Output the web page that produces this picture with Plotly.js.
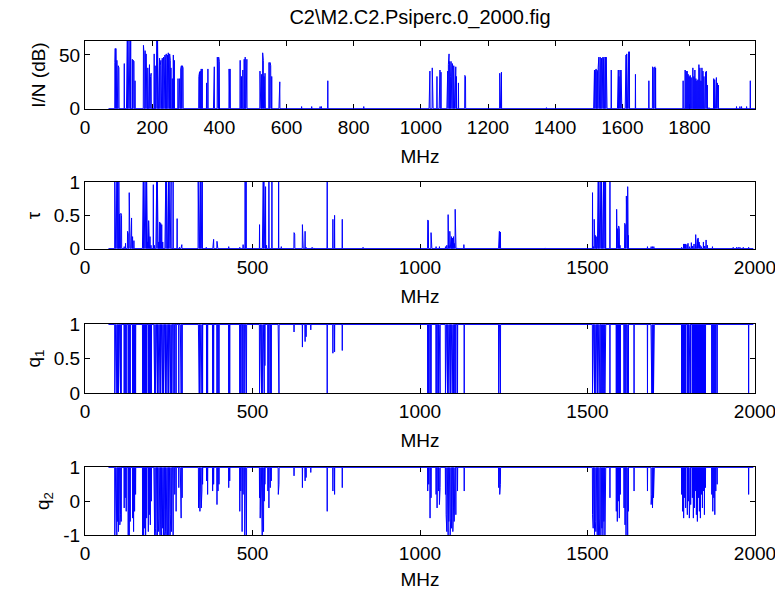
<!DOCTYPE html>
<html>
<head>
<meta charset="utf-8">
<script src="https://cdn.plot.ly/plotly-3.0.1.min.js"></script>
<style>html,body{margin:0;padding:0;background:#fff}#chart{width:775px;height:590px}</style>
</head>
<body>
<div id="chart"></div>
<script>
// ---------- data (MHz, value) ----------
const dataStart = 70, dataEnd = 1995;

const inFreq = [89,90,92,94,95,97,99,101,117,124,126,128,130,132,134,136,141,144,146,149,
174,176,179,182,184,187,190,192,195,197,206,209,212,214,216,218,220,222,224,226,228,230,232,234,236,238,240,242,244,246,248,250,252,254,256,
260,263,266,277,280,282,285,287,290,292,339,341,343,346,349,362,366,383,385,394,396,398,400,429,432,
462,466,470,474,477,480,482,521,523,526,529,531,533,536,548,551,553,556,578,580,645,675,700,704,723,830,
1025,1027,1034,1036,1048,1055,1057,1060,1078,1080,1082,1084,1086,1088,1090,1092,1094,1096,1098,1100,1102,1104,1106,1112,1131,1133,
1235,1237,1240,1374,1515,1517,1520,1522,1524,1526,1528,1530,1532,1534,1536,1538,1540,1542,1544,1546,1548,1550,1552,1554,
1567,1586,1588,1590,1593,1596,1598,1609,1611,1613,1615,1617,1619,1621,1639,1679,1690,1692,1695,1697,1699,
1781,1787,1790,1793,1796,1799,1802,1805,1810,1813,1816,1819,1822,1825,1828,1831,1834,1837,1840,1843,1846,1848,1850,1853,1858,
1872,1875,1878,1880,1883,1886,1940,1950,1955,1970,1981];
const inVal = [43,56,56,56,45,38,40,38,42,65,65,65,58,65,65,65,46,45,44,26,
59,50,54,51,51,38,41,41,30,33,51,40,65,65,65,44,40,47,40,45,38,47,44,48,42,50,46,51,44,50,52,40,51,45,38,
28,50,45,28,28,28,37,40,40,38,30,34,35,37,37,24,37,39,39,48,46,48,44,37,37,
45,30,36,46,48,40,46,35,30,32,52,45,30,33,43,43,40,30,25,25,2,2,2,2,26,2,
35,35,38,38,30,36,36,34,34,35,41,51,44,30,44,41,42,34,40,30,39,39,30,24,31,30,
33,33,34,1,36,36,35,37,36,35,38,48,46,48,40,47,44,48,47,48,40,48,48,46,
36,33,36,30,36,36,32,46,50,51,50,52,53,53,32,26,39,38,38,39,38,
26,36,35,35,32,30,31,29,38,30,36,28,26,27,41,38,26,38,35,30,25,34,35,22,1,
28,27,28,29,24,22,2,2,2,2,26];

const tauFreq = [89,91,93,95,97,99,101,103,105,107,109,117,121,127,129,132,134,137,139,142,146,
172,174,176,178,180,182,184,187,190,192,194,197,204,207,212,214,216,218,220,223,226,229,232,
239,241,243,245,247,249,251,253,255,257,263,275,282,287,289,338,340,342,344,346,348,350,
362,382,384,394,396,429,462,472,478,481,521,530,532,534,536,539,542,549,558,578,586,
624,626,649,651,657,660,678,683,723,740,745,768,830,
1023,1025,1033,1035,1048,1058,1076,1080,1084,1086,1089,1091,1094,1097,1100,1102,1105,1107,1112,1131,
1235,1237,1240,1374,1515,1518,1520,1523,1526,1530,1532,1534,1536,1538,1540,1542,1544,1546,1548,1550,1552,1554,1567,
1587,1589,1591,1593,1595,1597,1611,1613,1616,1618,1620,1622,1679,1690,1694,1698,
1781,1787,1790,1793,1797,1800,1805,1810,1814,1818,1823,1826,1828,1830,1833,1836,1840,1846,1850,1854,1858,1873,
1935,1945,1950,1955,1965,1981];
const tauVal = [1,1,1,1,1,1,1,0.52,0.5,0.53,0.5,0.03,0.08,0.26,0.22,0.84,0.84,0.46,0.46,0.18,0.12,
1,1,1,1,1,1,1,0.1,0.42,0.4,0.18,0.05,0.96,0.05,1,1,1,1,0.1,0.4,0.38,0.36,0.1,
1,1,1,1,1,1,1,1,1,1,1,0.45,0.02,0.05,0.06,1,1,1,1,1,1,1,
0.02,0.14,0.14,0.11,0.08,0.03,0.02,0.06,1,1,0.36,1,1,1,1,0.93,0.05,1,1,1,0.03,
0.24,0.22,0.36,0.3,0.26,0.02,0.02,0.01,1,0.44,0.5,0.44,0.02,
0.43,0.42,0.24,0.24,0.03,0.03,0.03,0.05,0.51,0.05,0.26,0.2,0.18,0.16,0.18,0.08,0.59,0.1,0.01,0.06,
0.24,0.26,0.25,0.01,0.84,0.03,0.44,0.2,0.18,0.3,1,1,1,0.2,1,1,1,1,1,1,1,1,1,
0.59,0.3,0.2,0.34,0.3,0.05,0.38,0.36,0.79,0.4,0.93,0.2,0.03,0.03,0.03,0.03,
0.02,0.07,0.07,0.07,0.06,0.08,0.03,0.09,0.04,0.07,0.21,0.12,0.14,0.16,0.1,0.05,0.03,0.1,0.04,0.13,0.05,0.03,
0.02,0.02,0.02,0.02,0.02,0.02];

const q1Freq = [89,91,93,95,97,100,102,104,106,108,117,120,123,129,132,135,142,145,148,151,
172,175,178,181,184,189,192,195,198,206,208,210,212,214,216,218,220,222,224,226,228,230,232,234,236,238,240,242,244,246,248,250,252,254,256,258,260,263,
268,272,280,285,287,290,339,341,343,345,347,349,351,363,366,381,384,394,397,400,429,432,462,465,469,472,477,480,482,
521,523,525,527,529,531,533,535,537,546,549,553,556,577,579,624,649,657,660,674,723,740,745,768,
1023,1026,1030,1033,1048,1051,1055,1058,1060,1076,1078,1080,1082,1084,1086,1088,1090,1092,1094,1096,1098,1100,1102,1104,1107,1112,1132,
1235,1238,1240,1515,1517,1519,1521,1523,1525,1527,1529,1531,1533,1535,1537,1540,1543,1546,1549,1552,1554,
1567,1586,1589,1592,1595,1598,1609,1612,1615,1618,1620,1622,1639,1679,1690,1692,1694,1697,1699,
1781,1784,1787,1790,1793,1798,1801,1804,1806,1808,1813,1816,1819,1822,1825,1828,1831,1834,1837,1840,1843,1846,1849,1852,
1871,1874,1877,1880,1883,1887,1981];
const q1Val = [0,0,0,0,0,0,0,0,0,0,0,0,0,0,0,0,0,0,0,0,
0,0,0,0,0,0,0,0,0,0,0,0,0,0,0,0,0,0,0,0,0,0,0,0,0,0,0,0,0,0,0,0,0,0,0,0,0,0,
0,0,0,0,0,0,0,0,0,0,0,0,0,0,0,0,0,0,0,0,0,0,0,0,0,0,0,0,0,
0,0,0,0,0,0,0,0,0.4,0,0,0,0,0,0,0.89,0.67,0.75,0.82,0.92,0,0.58,0.6,0.62,
0,0,0,0,0,0,0,0,0,0,0,0,0,0,0,0,0,0,0,0,0,0,0,0,0,0,0,
0,0,0,0,0,0,0,0,0,0,0,0,0,0,0,0,0,0,0,0,0,
0,0,0,0,0,0,0,0,0,0,0,0,0,0,0,0,0,0,0,
0,0,0,0,0,0,0,0,0,0,0,0,0,0,0,0,0,0,0,0,0,0,0,0,
0,0,0,0,0,0,0];

const q2Freq = q1Freq;
const q2Val = [-1,-1,-0.8,-1,-0.6,-0.9,-0.5,-0.7,-0.4,-0.6,-0.2,0.1,-0.3,-1,-1,-0.6,-0.5,-0.9,-0.3,0.2,
-1,-1,-0.8,-1,-0.5,-0.9,-0.4,-0.7,0,-0.6,-1,-0.8,-1,-1,-1,-0.5,-0.9,-0.4,-1,-0.7,-1,-0.3,-0.8,-1,-0.6,-1,-0.9,-1,-0.5,-1,-0.8,-1,-0.6,-1,-0.4,-0.9,-0.2,-1,
0.2,-0.3,0.4,-0.2,-0.5,0.1,-0.2,0.1,-0.3,0,-0.2,0.3,0.5,0.6,0.2,0.3,0.5,-0.1,0.3,0.5,0.4,0.6,-0.3,0.3,-0.9,0.2,-1,-0.6,-1,
0.1,-0.5,-0.2,-0.8,-1,-0.4,-0.9,0,0.5,0.3,-0.2,0.4,0.6,0.2,0.5,0.75,0.4,0.6,0.7,0.85,-0.3,0.3,0.2,0.4,
0.3,0.5,-0.5,0.1,0.2,-0.2,0.3,-0.1,0.4,0.2,-0.4,-0.9,-0.3,-1,-0.6,-0.2,-1,-0.5,-0.8,-0.3,-0.9,-0.2,-0.6,0.1,-0.4,0.3,0.3,
0.4,0.2,0.5,-0.4,-0.8,-0.2,-1,-0.6,-0.9,-0.3,-1,-0.7,-1,-1,-0.5,-1,-0.8,-1,-0.6,-1,-0.4,
0.1,-0.3,-0.6,0,-0.5,0.2,-0.2,-0.7,-1,-0.5,-1,-0.3,0.3,0.3,-0.1,0.2,-0.2,0.1,0.3,
0.2,-0.3,-0.5,0.1,-0.2,-0.4,0,-0.5,0.2,-0.1,0.1,-0.5,-0.2,0.3,-0.4,-0.6,0.1,-0.3,-0.5,0.2,-0.2,0.3,-0.4,0.4,
0.2,-0.3,0.1,-0.4,0.3,0.5,0.2];

// ---------- build spike lines ----------
function spikeLine(freq, val, base) {
  const x = [dataStart], y = [base];
  for (let i = 0; i < freq.length; i++) {
    x.push(freq[i] - 0.5, freq[i], freq[i] + 0.5);
    y.push(base, val[i], base);
  }
  x.push(dataEnd); y.push(base);
  return {x, y};
}

const FONT = 'Liberation Sans, Arial, Helvetica, sans-serif';
const blue = '#0000ff';
const s1 = spikeLine(inFreq, inVal, 0);
const s2 = spikeLine(tauFreq, tauVal, 0);
const s3 = spikeLine(q1Freq, q1Val, 1);
const s4 = spikeLine(q2Freq, q2Val, 1);

const lineStyle = {color: blue, width: 1};
const traces = [
  {x: s1.x, y: s1.y, xaxis: 'x', yaxis: 'y', type: 'scatter', mode: 'lines', line: lineStyle, hoverinfo: 'skip'},
  {x: s2.x, y: s2.y, xaxis: 'x2', yaxis: 'y2', type: 'scatter', mode: 'lines', line: lineStyle, hoverinfo: 'skip'},
  {x: s3.x, y: s3.y, xaxis: 'x3', yaxis: 'y3', type: 'scatter', mode: 'lines', line: lineStyle, hoverinfo: 'skip'},
  {x: s4.x, y: s4.y, xaxis: 'x4', yaxis: 'y4', type: 'scatter', mode: 'lines', line: lineStyle, hoverinfo: 'skip'}
];

const tickFont = {family: FONT, size: 19, color: '#000'};
function xax(anchor, range, dtick) {
  return {
    anchor: anchor, domain: [0, 1], range: range, dtick: dtick, tick0: 0,
    showline: true, linecolor: '#000', linewidth: 1, mirror: 'ticks',
    ticks: 'inside', ticklen: 5, tickcolor: '#000', tickwidth: 1,
    showgrid: false, zeroline: false, tickfont: tickFont, layer: 'below traces',
    ticklabeloverflow: 'allow', ticklabelstandoff: 1,
    title: {text: 'MHz', font: tickFont, standoff: 12}
  };
}
function yax(anchor, domain, range, tickvals, ticktext, title) {
  return {
    anchor: anchor, domain: domain, range: range, tickvals: tickvals, ticktext: ticktext,
    showline: true, linecolor: '#000', linewidth: 1, mirror: 'ticks',
    ticks: 'inside', ticklen: 5, tickcolor: '#000', tickwidth: 1,
    showgrid: false, zeroline: false, tickfont: tickFont, layer: 'below traces',
    ticklabeloverflow: 'allow',
    title: {text: title, font: tickFont, standoff: 8}
  };
}

const layout = {
  width: 775, height: 590,
  margin: {l: 85, r: 20, t: 41, b: 55},
  paper_bgcolor: '#fff', plot_bgcolor: '#fff',
  showlegend: false,
  font: {family: FONT, size: 19, color: '#000'},
  title: {text: 'C2\\M2.C2.Psiperc.0_2000.fig', font: {family: FONT, size: 20, color: '#000'},
          x: 0.5, xref: 'paper', xanchor: 'center', y: 0.972, yref: 'container', yanchor: 'middle'},
  xaxis:  xax('y',  [0, 1995], 200),
  xaxis2: xax('y2', [0, 2000], 500),
  xaxis3: xax('y3', [0, 2000], 500),
  xaxis4: xax('y4', [0, 2000], 500),
  yaxis:  yax('x',  [0.8623, 1.0],    [-0.3, 63],  [0, 50], ['0', '50'], 'I/N (dB)'),
  yaxis2: yax('x2', [0.5789, 0.7146], [-0.006, 1], [0, 0.5, 1], ['0', '0.5', '1'], 'τ'),
  yaxis3: yax('x3', [0.2874, 0.4271], [0, 1.006],  [0, 0.5, 1], ['0', '0.5', '1'], 'q<sub>1</sub>'),
  yaxis4: yax('x4', [0, 0.1377],      [-1, 1.012], [-1, 0, 1], ['-1', '0', '1'], 'q<sub>2</sub>')
};

Plotly.newPlot('chart', traces, layout, {staticPlot: true, displayModeBar: false});
</script>
</body>
</html>
